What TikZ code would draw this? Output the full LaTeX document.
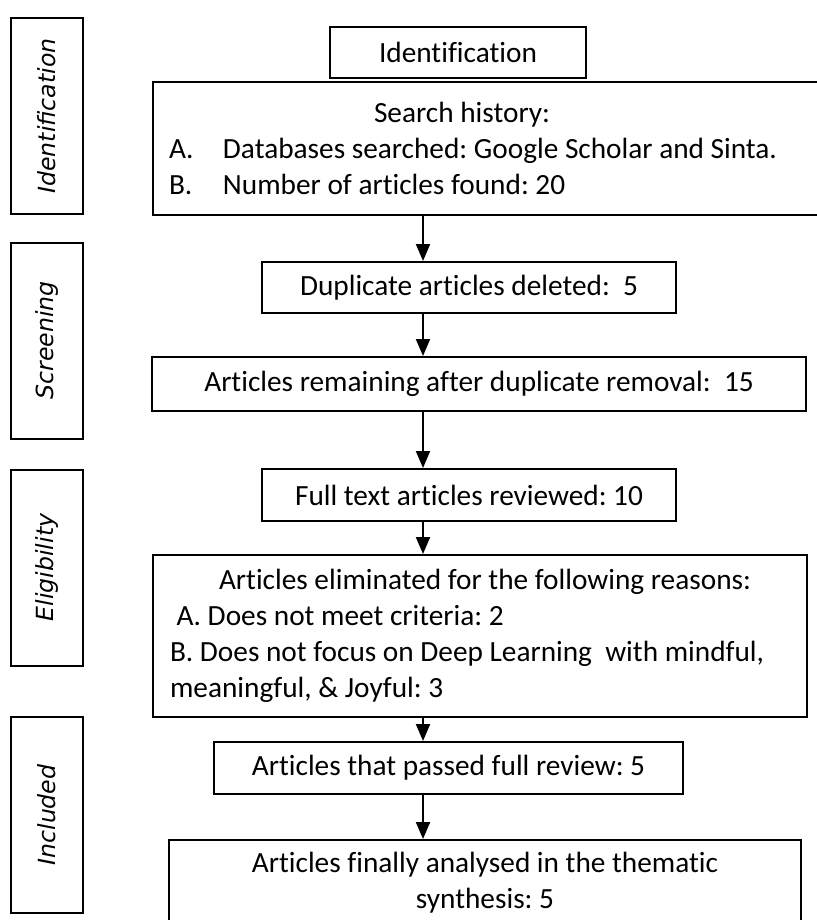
\documentclass[tikz,border=0pt]{standalone}
\usepackage{fontspec}
\setmainfont{Carlito}[Ligatures=NoCommon]
\newfontfamily\phasefont{DejaVu Sans}
\usetikzlibrary{arrows.meta}
\frenchspacing
\begin{document}
\begin{tikzpicture}[x=0.5pt,y=-0.5pt,
    box/.style={draw,line width=1pt,inner sep=0pt,
      font=\fontsize{14.65pt}{18pt}\selectfont},
    phase/.style={draw,line width=1pt,rotate=90,inner sep=0pt,
      minimum width=98pt,minimum height=36pt,
      font=\phasefont\itshape\fontsize{11.8pt}{14pt}\selectfont},
    flow/.style={line width=1pt,-{Triangle[width=7pt,length=8.5pt]}}]
  \useasboundingbox (0,0) rectangle (817,920);
  \clip (0,0) rectangle (817,920);
  % phases on the left
  \node[phase] (idlab) at (47,116) {Identification};
  \node[phase] (scrlab) at (47,340.5) {Screening};
  \node[phase] (elilab) at (47,567.5) {Eligibility};
  \node[phase] (inclab) at (47,815) {Included};
  % flow boxes
  \node[box,minimum width=128pt,minimum height=25.5pt] (ident) at (458,52.5) {Identification};
  \node[box,anchor=north west,inner xsep=8pt,text width=333pt,
    minimum height=66.5pt,align=flush left] (search) at (152,81)
    {\makebox[293pt][c]{Search history:}\\
     \makebox[27pt][l]{A.}Databases searched: Google Scholar and Sinta.\\
     \makebox[27pt][l]{B.}Number of articles found: 20};
  \node[box,minimum width=207pt,minimum height=25.5pt] (dup) at (469,287.5) {Duplicate articles deleted:\ \ 5};
  \node[box,minimum width=327pt,minimum height=27pt] (remain) at (479,384) {Articles remaining after duplicate removal:\ \ 15};
  \node[box,minimum width=207pt,minimum height=26pt] (fulltext) at (469,495) {Full text articles reviewed: 10};
  \node[box,anchor=north west,inner xsep=8.5pt,text width=310pt,
    minimum height=81pt,align=flush left] (elim) at (152,554)
    {\makebox[\linewidth][c]{\hspace*{5pt}Articles eliminated for the following reasons:}\\
     \ A. Does not meet criteria: 2\\
     B. Does not focus on Deep Learning\ \ with mindful,\\
     meaningful, \& Joyful: 3};
  \node[box,minimum width=234.5pt,minimum height=26pt] (passed) at (448.5,768) {Articles that passed full review: 5};
  \node[box,anchor=north west,inner xsep=8pt,inner ysep=6pt,text width=300pt,
    align=flush center] (final) at (168,839)
    {Articles finally analysed in the thematic\\ synthesis: 5};
  \coordinate (spine) at (423,0);
  \begin{scope}[flow]
    \draw (search.south -| spine) to (dup.north -| spine);
    \draw (dup.south -| spine) to (remain.north -| spine);
    \draw (remain.south -| spine) to (fulltext.north -| spine);
    \draw (fulltext.south -| spine) to (elim.north -| spine);
    \draw (elim.south -| spine) to (passed.north -| spine);
    \draw (passed.south -| spine) to (final.north -| spine);
  \end{scope}
\end{tikzpicture}
\end{document}
